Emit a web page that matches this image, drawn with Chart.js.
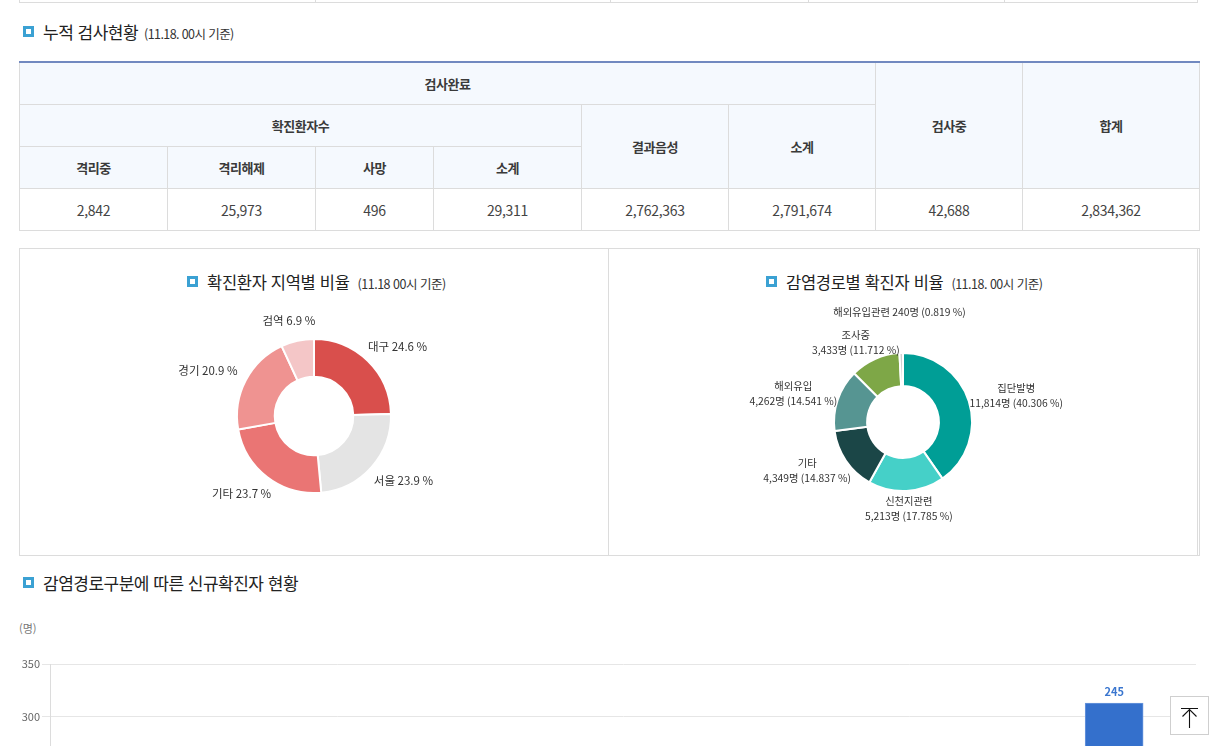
<!DOCTYPE html>
<html lang="ko">
<head>
<meta charset="utf-8">
<title>누적 검사현황</title>
<script src="https://cdn.jsdelivr.net/npm/chart.js@4.4.0/dist/chart.umd.min.js"></script>
<style>
  html, body { margin: 0; padding: 0; background: #fff; overflow: hidden; }
  body { width: 1229px; height: 746px; position: relative; font-family: "Noto Sans CJK KR", "Noto Sans", sans-serif; color: #333; }
  .abs { position: absolute; }
  .tit { font-size: 17px; letter-spacing: -0.5px; color: #222; white-space: nowrap; line-height: 20px; }
  .tit .ico { display: inline-block; width: 5px; height: 5px; border: 3px solid #3ba1d3; vertical-align: 2px; margin-right: 9px; }
  .tit small { font-size: 12.5px; letter-spacing: -0.6px; margin-left: 6px; color: #333; }
  .ptit { font-size: 16.5px; letter-spacing: -0.3px; }
  .ptit small { font-size: 12.5px; letter-spacing: -0.5px; margin-left: 8px; }
  #top-rest { left: 19px; top: 0; width: 1177px; height: 2px; border: 1px solid #dcdcdc; border-top: none; }
  #top-rest i { position: absolute; top: 0; width: 1px; height: 2px; background: #dcdcdc; }
  table { position: absolute; left: 19px; top: 61px; width: 1180px; border-collapse: collapse; table-layout: fixed; border-top: 2px solid #7189c0; }
  th, td { border: 1px solid #dcdcdc; text-align: center; padding: 0; height: 41px; }
  th { background: #f5f9fe; font-size: 13px; font-weight: bold; color: #3a3a3a; letter-spacing: -0.5px; }
  td { font-size: 14px; color: #444; letter-spacing: -0.3px; }
  tbody td { border-top: 1px solid #7189c0; }
  .panel { top: 248px; height: 306px; border: 1px solid #dcdcdc; }
  #totop { left: 1170px; top: 696px; width: 37px; height: 37px; border: 1px solid #cfcfcf; background: #fff; }
</style>
</head>
<body>

<div id="top-rest" class="abs"></div>

<div class="abs tit" style="left:23px;top:22px;"><span class="ico"></span>누적 검사현황<small>(11.18. 00시 기준)</small></div>

<table id="testTable">
  <colgroup>
    <col style="width:148px"><col style="width:148px"><col style="width:118px"><col style="width:148px">
    <col style="width:147px"><col style="width:147px"><col style="width:147px"><col style="width:177px">
  </colgroup>
  <thead>
    <tr><th colspan="6">검사완료</th><th rowspan="3">검사중</th><th rowspan="3">합계</th></tr>
    <tr><th colspan="4">확진환자수</th><th rowspan="2">결과음성</th><th rowspan="2">소계</th></tr>
    <tr><th>격리중</th><th>격리해제</th><th>사망</th><th>소계</th></tr>
  </thead>
  <tbody><tr id="testRow"></tr></tbody>
</table>

<div class="abs panel" style="left:19px;width:588px;"></div>
<div class="abs panel" style="left:608px;width:588px;border-right:3px double #dcdcdc;"></div>

<div class="abs tit ptit" style="left:187px;top:272px;"><span class="ico"></span>확진환자 지역별 비율<small>(11.18 00시 기준)</small></div>
<div class="abs tit ptit" style="left:766px;top:272px;"><span class="ico"></span>감염경로별 확진자 비율<small>(11.18. 00시 기준)</small></div>

<div class="abs" style="left:164px;top:296px;width:300px;height:240px;"><canvas id="regionChart"></canvas></div>
<div class="abs" style="left:693px;top:292px;width:420px;height:260px;"><canvas id="routeChart"></canvas></div>

<div class="abs tit" style="left:23px;top:573px;"><span class="ico"></span>감염경로구분에 따른 신규확진자 현황</div>
<div class="abs" style="left:19px;top:620px;font-size:11px;color:#777;">(명)</div>

<div class="abs" style="left:0;top:640px;width:1229px;height:420px;"><canvas id="dailyChart"></canvas></div>

<div id="totop" class="abs">
  <svg width="37" height="37" viewBox="0 0 37 37"><path d="M10 11.5H27M18.5 31V12.5M11.5 19.5L18.5 12.5L25.5 19.5" stroke="#111" stroke-width="1.1" fill="none"/></svg>
</div>

<script>
// table values (11.18. 00시 기준)
const testValues = [2842, 25973, 496, 29311, 2762363, 2791674, 42688, 2834362];

// region share
const regionLabels = ['대구', '서울', '기타', '경기', '검역'];
const regionShares = [24.6, 23.9, 23.7, 20.9, 6.9];
const regionColors = ['#d94f4c', '#e4e4e4', '#ea7574', '#ef9391', '#f4c6c7'];

// infection route
const routeLabels = ['집단발병', '신천지관련', '기타', '해외유입', '조사중', '해외유입관련'];
const routeCounts = [11814, 5213, 4349, 4262, 3433, 240];
const routeShares = [40.306, 17.785, 14.837, 14.541, 11.712, 0.819];
const routeColors = ['#009e96', '#45d0c8', '#1b4647', '#569592', '#7ea747', '#cfcfcf'];

// daily new cases by route
const dayLabels = ['11.12', '11.13', '11.14', '11.15', '11.16', '11.17', '11.18'];
const importedCases = [30, 29, 29, 15, 21, 28, 68];
const localCases = [113, 162, 176, 193, 202, 202, 245];
const yMax = 350, yStep = 50;

const FONT = '"Noto Sans CJK KR", "Noto Sans", sans-serif';

// table row
const row = document.getElementById('testRow');
testValues.forEach(v => {
  const td = document.createElement('td');
  td.textContent = v.toLocaleString('en-US');
  row.appendChild(td);
});

// remains of the table above
const topRest = document.getElementById('top-rest');
[295, 590, 788, 984].forEach(x => {
  const i = document.createElement('i');
  i.style.left = x + 'px';
  topRest.appendChild(i);
});

// labels outside of the doughnut
const outLabels = {
  id: 'outLabels',
  afterDatasetsDraw(chart, args, opts) {
    const ctx = chart.ctx;
    const meta = chart.getDatasetMeta(0);
    ctx.save();
    ctx.font = opts.font;
    ctx.fillStyle = opts.color;
    ctx.textAlign = 'center';
    ctx.textBaseline = 'middle';
    const boxes = [];
    meta.data.forEach((arc, i) => {
      const p = arc.getProps(['x', 'y', 'startAngle', 'endAngle', 'outerRadius'], true);
      const mid = (p.startAngle + p.endAngle) / 2;
      const lines = opts.lines(i);
      const w = Math.max(...lines.map(l => ctx.measureText(l).width));
      const h = lines.length * opts.lineHeight;
      const r = p.outerRadius + opts.gap;
      const cx = p.x + Math.cos(mid) * (r + w / 2);
      let cy = p.y + Math.sin(mid) * r + Math.sin(mid) * h / 2;
      const up = Math.sin(mid) < 0;
      boxes.forEach(b => {
        if (Math.abs(cx - b.cx) < (w + b.w) / 2 && Math.abs(cy - b.cy) < (h + b.h) / 2 + opts.pad) {
          cy = up ? b.cy - (h + b.h) / 2 - opts.pad : b.cy + (h + b.h) / 2 + opts.pad;
        }
      });
      boxes.push({ cx, cy, w, h });
      lines.forEach((l, k) => ctx.fillText(l, cx, cy - h / 2 + opts.lineHeight * (k + 0.5)));
    });
    ctx.restore();
  }
};

function doughnut(id, labels, data, colors, radius, cutout, labelOpts) {
  return new Chart(document.getElementById(id), {
    type: 'doughnut',
    data: {
      labels: labels,
      datasets: [{
        data: data,
        backgroundColor: colors,
        borderColor: '#fff',
        borderWidth: 2,
        hoverOffset: 0
      }]
    },
    options: {
      responsive: true,
      maintainAspectRatio: false,
      animation: false,
      events: [],
      radius: radius,
      cutout: cutout,
      plugins: {
        legend: { display: false },
        tooltip: { enabled: false },
        outLabels: labelOpts
      }
    },
    plugins: [outLabels]
  });
}

doughnut('regionChart', regionLabels, regionShares, regionColors, 77, '51%', {
  font: '11.5px ' + FONT,
  color: '#333',
  lineHeight: 15,
  gap: 13,
  pad: 4,
  lines: i => [regionLabels[i] + ' ' + regionShares[i].toFixed(1) + ' %']
});

doughnut('routeChart', routeLabels, routeCounts, routeColors, 69, '52%', {
  font: '10.3px ' + FONT,
  color: '#333',
  lineHeight: 15,
  gap: 3,
  pad: 8,
  lines: i => {
    const txt = routeCounts[i].toLocaleString('en-US') + '명 (' + routeShares[i].toFixed(3) + ' %)';
    return routeShares[i] < 1 ? [routeLabels[i] + ' ' + txt] : [routeLabels[i], txt];
  }
});

// value on top of the stacked bar
const topValue = {
  id: 'topValue',
  afterDatasetsDraw(chart) {
    const ctx = chart.ctx;
    const meta = chart.getDatasetMeta(1);
    ctx.save();
    ctx.font = 'bold 11px ' + FONT;
    ctx.fillStyle = '#3a76cf';
    ctx.textAlign = 'center';
    ctx.textBaseline = 'bottom';
    meta.data.forEach((bar, i) => ctx.fillText(localCases[i], bar.x, bar.y - 6));
    ctx.restore();
  }
};

new Chart(document.getElementById('dailyChart'), {
  type: 'bar',
  data: {
    labels: dayLabels,
    datasets: [
      { label: '해외유입', data: importedCases, backgroundColor: '#f2a33c', barThickness: 58 },
      { label: '지역발생', data: localCases, backgroundColor: '#3470cc', borderColor: '#6b97dd', borderWidth: 1, barThickness: 58 }
    ]
  },
  options: {
    responsive: true,
    maintainAspectRatio: false,
    animation: false,
    events: [],
    layout: { padding: { top: 24, right: 33, left: 0, bottom: 0 } },
    scales: {
      x: {
        stacked: true,
        grid: { display: false },
        border: { color: '#dcdcdc' },
        ticks: { color: '#666', font: { family: FONT, size: 11 } }
      },
      y: {
        stacked: true,
        min: 0,
        max: yMax,
        ticks: { stepSize: yStep, color: '#666', padding: 2, font: { family: FONT, size: 11 } },
        grid: { color: '#e6e6e6', tickLength: 8 },
        border: { color: '#dcdcdc' },
        afterFit: scale => { scale.width = 50; }
      }
    },
    plugins: { legend: { display: false }, tooltip: { enabled: false } }
  },
  plugins: [topValue]
});
</script>
</body>
</html>
